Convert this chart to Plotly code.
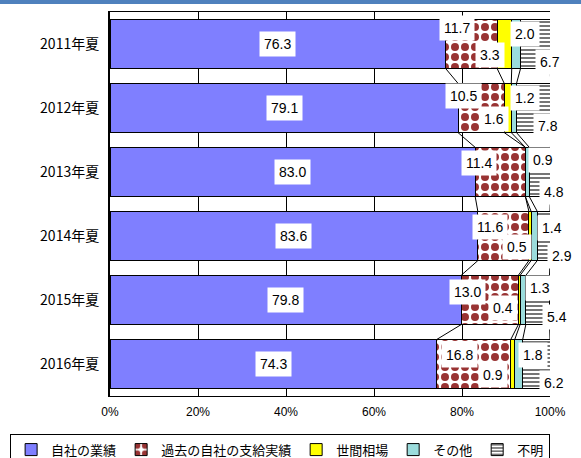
import plotly.graph_objects as go

categories = ["2011年夏", "2012年夏", "2013年夏", "2014年夏", "2015年夏", "2016年夏"]
series_names = ["自社の業績", "過去の自社の支給実績", "世間相場", "その他", "不明"]
own_perf = [76.3, 79.1, 83.0, 83.6, 79.8, 74.3]
past_pay = [11.7, 10.5, 11.4, 11.6, 13.0, 16.8]
market = [3.3, 1.6, 0.0, 0.5, 0.4, 0.9]
other = [2.0, 1.2, 0.9, 1.4, 1.3, 1.8]
unknown = [6.7, 7.8, 4.8, 2.9, 5.4, 6.2]
values = [own_perf, past_pay, market, other, unknown]
x_ticks = [0, 20, 40, 60, 80, 100]
x_tick_labels = ["0%", "20%", "40%", "60%", "80%", "100%"]

# styles
colors = ["#7F7FFF", "#FFFFFF", "#FFFF00", "#9BDCDC", "#FFFFFF"]
patterns = [None,
            dict(shape=".", fgcolor="#993333", bgcolor="#FFFFFF", size=10, solidity=0.5, fillmode="replace"),
            None, None,
            dict(shape="-", fgcolor="#666666", bgcolor="#FFFFFF", size=4, solidity=0.45, fillmode="replace")]
BAR_W = 0.77
# label pixel offsets (dx, dy) relative to segment centre; series 1 is centred
label_offsets = [
    [(0, 0), (-14, -16), (-14, 11), (9, -10), (15, 18)],
    [(0, 0), (-18, -12), (-14, 11), (11, -10), (14, 18)],
    [(0, 0), (-21, -9), None, (16, -12), (14, 20)],
    [(0, 0), (-13, -9), (-13, 11), (18, -8), (18, 20)],
    [(0, 0), (-22, -8), (-16, 8), (17, -12), (19, 17)],
    [(0, 0), (-14, -9), (-20, 11), (14, -9), (18, 19)],
]

ypos = list(range(len(categories)))
fig = go.Figure()
for s, name in enumerate(series_names):
    marker = dict(color=colors[s], line=dict(color="black", width=1))
    if patterns[s]:
        marker["pattern"] = patterns[s]
    fig.add_trace(go.Bar(y=ypos, x=values[s], name=name, orientation="h",
                         width=BAR_W, marker=marker, hoverinfo="skip"))

# cumulative boundaries for series lines
cum = []
for i in range(len(categories)):
    c, row = 0, []
    for s in range(len(series_names)):
        c += values[s][i]
        row.append(c)
    cum.append(row)
for s in range(len(series_names)):
    xs, ys = [], []
    for i in range(len(categories) - 1):
        xs += [cum[i][s], cum[i + 1][s], None]
        ys += [i + BAR_W / 2, i + 1 - BAR_W / 2, None]
    fig.add_trace(go.Scatter(x=xs, y=ys, mode="lines", line=dict(color="black", width=1),
                             showlegend=False, hoverinfo="skip"))

annotations = []
for i in range(len(categories)):
    start = 0
    for s in range(len(series_names)):
        v = values[s][i]
        off = label_offsets[i][s]
        if off is not None and v > 0:
            annotations.append(dict(
                x=start + v / 2, y=i, xref="x", yref="y", text=f"{v:.1f}",
                showarrow=False, xshift=off[0], yshift=-off[1],
                bgcolor="white", borderpad=4,
                font=dict(size=14, color="black", family="Liberation Sans, Arial")))
        start += v

fig.update_layout(
    barmode="stack",
    width=581, height=458,
    margin=dict(l=110, r=31, t=12, b=62, autoexpand=False),
    paper_bgcolor="white", plot_bgcolor="white",
    annotations=annotations,
    showlegend=True,
    legend=dict(orientation="h", x=-0.227, y=-0.098, xanchor="left", yanchor="top",
                bordercolor="black", borderwidth=1,
                font=dict(size=13, family="Noto Sans CJK JP", color="black"),
                itemwidth=30, traceorder="normal"),
    shapes=[dict(type="rect", xref="paper", yref="paper", x0=-0.26, x1=1.08, y0=1.021, y1=1.04,
                 fillcolor="#4F81BD", line=dict(width=0), layer="above")],
    font=dict(family="Noto Sans CJK JP", color="black"),
)
fig.update_xaxes(range=[0, 100], tickvals=x_ticks, ticktext=x_tick_labels,
                 showgrid=True, gridcolor="black", gridwidth=1,
                 showline=True, linecolor="black", linewidth=1, mirror=True,
                 ticks="", zeroline=False, ticklabelstandoff=5,
                 tickfont=dict(size=12, family="Liberation Sans Narrow, Liberation Sans"))
fig.update_yaxes(range=[len(categories) - 0.5, -0.5], tickvals=ypos, ticktext=categories,
                 showgrid=False, showline=True, linecolor="black", linewidth=2,
                 ticks="", ticklen=0, zeroline=False, ticklabelstandoff=6, tickfont=dict(size=14))

fig.write_html("out.html")
